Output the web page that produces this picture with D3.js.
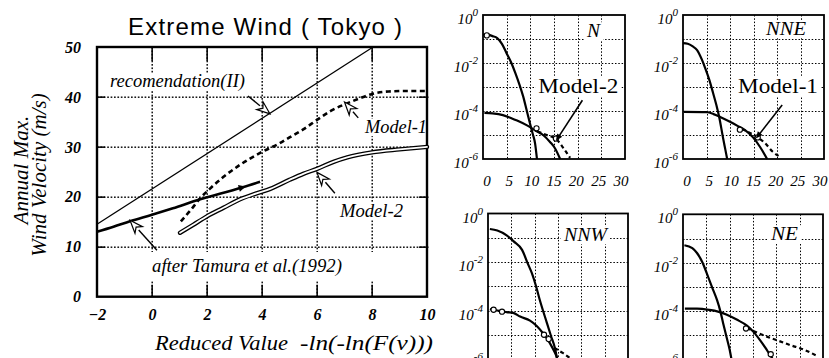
<!DOCTYPE html>
<html><head><meta charset="utf-8">
<script src="https://cdn.jsdelivr.net/npm/d3@7"></script>
<style>body{margin:0;background:#fff}svg{display:block}</style>
</head><body>
<svg id="c" width="829" height="358" xmlns="http://www.w3.org/2000/svg"></svg>
<script>
// ---------- main chart data ----------
const mainXTicks = [-2, 0, 2, 4, 6, 8, 10];
const mainYTicks = [0, 10, 20, 30, 40, 50];
const recommendation = [[-2, 14.5], [8.04, 50]];
const model1 = [[1.05,15.1],[1.4,17.3],[1.75,19.7],[2.1,21.6],[2.6,24.0],[3.2,26.4],[4.0,29.0],[4.6,30.6],[5.0,31.9],[5.5,33.5],[6.0,35.4],[6.5,37.2],[7.0,38.5],[7.5,39.6],[8.0,40.6],[8.6,41.1],[9.3,41.2],[10,41.2]];
const model2 = [[1.02,12.8],[1.5,14.4],[2.0,16.1],[2.6,17.8],[3.2,19.5],[3.8,20.7],[4.3,21.6],[5.0,23.4],[5.5,24.6],[6.0,25.6],[6.6,27.0],[7.1,27.9],[8.0,28.9],[9.0,29.5],[10,30.0]];
const tamura = [[-2,13.0],[-1.4,14.0],[-0.8,15.1],[0,16.4],[0.76,17.7],[1.75,19.5],[2.6,20.8],[3.3,21.9],[3.93,23.0]];
// annotation arrows: [tip, tail]
const recArrow = [[4.29,36.6],[3.49,40.2]];
const model1Arrow = [[7.0,39.0],[7.5,35.8]];
const model2Arrow = [[6.0,24.9],[6.65,20.7]];
const tamuraArrow = [[-0.8,15.3],[0.18,9.3]];

// ---------- small panel data (log10 of probability density) ----------
const panelXTicks = [0, 5, 10, 15, 20, 25, 30];
const panelLabelExp = [0, -2, -4, -6];
const panelGridExp = [-1, -2, -3, -4, -5];
const panelNames = ["N", "NNE", "NNW", "NE"];
const nSteep = [[0,-0.83],[1,-0.82],[2,-0.88],[3,-0.96],[4,-1.2],[5,-1.6],[6,-2.0],[6.8,-2.4],[7.7,-2.9],[8.5,-3.4],[9.2,-3.95],[9.9,-4.5],[10.5,-4.95],[11,-5.35],[11.4,-6.0]];
const nFlat = [[0.3,-4.08],[2,-4.1],[4.2,-4.17],[6,-4.3],[7.2,-4.4],[9.3,-4.6],[11,-4.8],[12.7,-5.0],[14.2,-5.3],[15.2,-5.55],[16.3,-6.0]];
const nTail = [[11.5,-4.85],[13,-4.97],[15.6,-5.2],[17,-5.55],[18.4,-5.95]];
const nMarks = [[0.8,-0.85],[11.3,-4.72],[15.4,-5.15]];
const nneSteep = [[0,-1.17],[1,-1.2],[2,-1.3],[3,-1.46],[4,-1.85],[4.7,-2.2],[5.6,-2.7],[6.4,-3.25],[7.1,-3.75],[7.7,-4.25],[8.5,-5.1],[9.0,-5.6],[9.4,-6.0]];
const nneFlat = [[0.2,-4.04],[5.1,-4.05],[6.5,-4.13],[7.9,-4.25],[10,-4.45],[11.6,-4.62],[13.2,-4.8],[14.9,-5.1],[16.4,-5.5],[17.9,-6.0]];
const nneTail = [[12.5,-4.75],[15.5,-5.05],[17.5,-5.35],[19.1,-5.7],[20.6,-5.9]];
const nneMarks = [[12.1,-4.78],[15.9,-5.1]];
const nnwSteep = [[0.4,-0.64],[2,-0.7],[4,-0.9],[5.5,-1.15],[7.3,-1.5],[8.6,-2.1],[9.4,-2.46],[10.3,-3.0],[11.1,-3.57],[12.6,-4.5],[13.5,-5.05],[14.4,-5.6],[14.8,-6.0]];
const nnwFlat = [[0.4,-3.95],[2,-4.0],[4,-4.07],[5.4,-4.1],[6.9,-4.25],[9,-4.42],[10.5,-4.65],[11.8,-4.94],[12.8,-5.2],[13.7,-5.5],[14.6,-5.85],[14.9,-6.0]];
const nnwTail = [[14.2,-5.55],[16,-5.75],[17.8,-6.0]];
const nnwMarks = [[1.2,-3.97],[3,-4.05],[12.0,-5.0],[13.0,-5.18]];
const neSteep = [[0.3,-1.28],[2,-1.4],[3,-1.6],[4.2,-2.0],[5.1,-2.44],[6.2,-3.0],[7.3,-3.55],[8.0,-4.0],[8.6,-4.5],[9.3,-5.05],[10,-5.6],[10.4,-6.0]];
const neFlat = [[0.4,-3.9],[3,-3.9],[5.6,-3.95],[7.5,-4.02],[9.4,-4.15],[11.5,-4.35],[13.7,-4.6],[15.2,-4.88],[16.5,-5.2],[17.6,-5.5],[18.6,-5.8],[19.3,-6.0]];
const neTail = [[13.7,-4.7],[16,-4.9],[18.6,-5.1],[20.8,-5.25],[22.9,-5.4],[26,-5.6],[28.7,-5.85]];
const neMarks = [[13.5,-4.72],[18.8,-5.78]];
const panelModelLabels = ["Model-2", "Model-1", null, null];
const panelModelArrows = [[[15.4,-5.25],[21,-3.55]], [[15.5,-5.15],[21.1,-3.75]], null, null];

// ---------- drawing ----------
const svg = d3.select("#c");
const SERIF = "'Liberation Serif','Times New Roman',serif";
const SANS = "'Liberation Sans',Arial,sans-serif";
const r2 = v => Math.round(v * 100) / 100;
const half = v => Math.round(v) + 0.5;

function label(g, x, y, str, opts) {
  const size = opts.size || 17, len = opts.len;
  if (opts.bg) {
    const x0 = opts.anchor === "end" ? x - len : x;
    g.append("rect").attr("x", r2(x0 - 3)).attr("y", r2(y - size * 0.78)).attr("width", r2(len + 6))
      .attr("height", r2(size * 0.95)).attr("fill", "#fff");
  }
  return g.append("text").attr("x", x).attr("y", y).text(str)
    .attr("font-family", opts.family || SERIF)
    .attr("font-size", size)
    .attr("font-style", opts.style || "italic")
    .attr("text-anchor", opts.anchor || "start")
    .attr("fill", "#000")
    .attr("textLength", len).attr("lengthAdjust", "spacingAndGlyphs");
}

function openArrow(g, tip, tail, len, wid) {
  const dx = tip[0]-tail[0], dy = tip[1]-tail[1], L = Math.hypot(dx, dy);
  const ux = dx/L, uy = dy/L, nx = -uy, ny = ux;
  const bx = tip[0]-ux*len, by = tip[1]-uy*len;
  g.append("path").attr("d", `M${r2(tail[0])},${r2(tail[1])}L${r2(bx)},${r2(by)}`)
    .attr("fill", "none").attr("stroke", "#000").attr("stroke-width", 1.4);
  g.append("path")
    .attr("d", `M${r2(tip[0])},${r2(tip[1])}L${r2(bx+nx*wid)},${r2(by+ny*wid)}L${r2(bx+ux*len*0.3)},${r2(by+uy*len*0.3)}L${r2(bx-nx*wid)},${r2(by-ny*wid)}Z`)
    .attr("fill", "#fff").attr("stroke", "#000").attr("stroke-width", 1.2);
}

// ===== small panels =====
const panels = [
  {x0: 483, x1: 625, yTop: 15, yBot: 159, steep: nSteep, flat: nFlat, tail: nTail, marks: nMarks, xLabels: true,
   nameX: 600, nameY: 37, nameLen: 13},
  {x0: 683, x1: 824, yTop: 15, yBot: 159, steep: nneSteep, flat: nneFlat, tail: nneTail, marks: nneMarks, xLabels: true,
   nameX: 806, nameY: 35, nameLen: 40},
  {x0: 488, x1: 628, yTop: 213.5, yBot: 359, steep: nnwSteep, flat: nnwFlat, tail: nnwTail, marks: nnwMarks, xLabels: false,
   nameX: 607, nameY: 241, nameLen: 43},
  {x0: 683, x1: 823, yTop: 214.3, yBot: 359.5, steep: neSteep, flat: neFlat, tail: neTail, marks: neMarks, xLabels: false,
   nameX: 798, nameY: 240, nameLen: 27}
];

panels.forEach((p, i) => {
  const g = svg.append("g");
  const px = d3.scaleLinear().domain([0, 30]).range([p.x0, p.x1]);
  const pxLabel = d3.scaleLinear().domain([0, 30]).range([p.x0 + 4, p.x1 - 4]);
  const py = d3.scaleLog().domain([1e-6, 1]).range([p.yBot, p.yTop]);
  const gp = panelXTicks.slice(1, -1).map(d => `M${half(px(d))},${p.yTop}V${p.yBot}`).join("")
    + panelGridExp.map(d => `M${p.x0},${half(py(10 ** d))}H${p.x1}`).join("");
  g.append("path").attr("d", gp).attr("fill", "none")
    .attr("stroke", "#000").attr("stroke-width", 1).attr("stroke-dasharray", "1.5,1.8");
  label(g, p.nameX, p.nameY, panelNames[i], {size: 19, anchor: "end", len: p.nameLen, bg: true});
  if (panelModelLabels[i]) {
    label(g, px(11.7), py(10 ** -3.25), panelModelLabels[i], {size: 22, style: "normal", len: 80, bg: true});
  }
  g.append("rect").attr("x", p.x0).attr("y", p.yTop).attr("width", p.x1 - p.x0).attr("height", p.yBot - p.yTop)
    .attr("fill", "none").attr("stroke", "#000").attr("stroke-width", 1.8);
  const pl = d3.line().x(d => px(d[0])).y(d => py(10 ** d[1])).curve(d3.curveMonotoneX);
  g.append("path").attr("d", pl(p.tail)).attr("fill", "none").attr("stroke", "#000")
    .attr("stroke-width", 2.2).attr("stroke-dasharray", "4,3");
  g.append("path").attr("d", pl(p.flat)).attr("fill", "none").attr("stroke", "#000").attr("stroke-width", 2.2);
  g.append("path").attr("d", pl(p.steep)).attr("fill", "none").attr("stroke", "#000").attr("stroke-width", 2.2);
  g.selectAll(".mk").data(p.marks).join("circle")
    .attr("cx", d => px(d[0])).attr("cy", d => py(10 ** d[1])).attr("r", 2.6)
    .attr("fill", "#fff").attr("stroke", "#000").attr("stroke-width", 1.1);
  if (panelModelArrows[i]) {
    const a = panelModelArrows[i];
    const tip = [px(a[0][0]), py(10 ** a[0][1])], tail = [px(a[1][0]), py(10 ** a[1][1])];
    const dx = tip[0]-tail[0], dy = tip[1]-tail[1], L = Math.hypot(dx, dy), ux = dx/L, uy = dy/L;
    g.append("path").attr("d", `M${r2(tail[0])},${r2(tail[1])}L${r2(tip[0]-ux*4)},${r2(tip[1]-uy*4)}`)
      .attr("fill", "none").attr("stroke", "#000").attr("stroke-width", 1.6);
    g.append("path")
      .attr("d", `M${r2(tip[0])},${r2(tip[1])}L${r2(tip[0]-ux*7-uy*3)},${r2(tip[1]-uy*7+ux*3)}L${r2(tip[0]-ux*7+uy*3)},${r2(tip[1]-uy*7-ux*3)}Z`)
      .attr("fill", "#000");
  }
  panelLabelExp.forEach(e => {
    const t = g.append("text").attr("x", p.x0 - 5).attr("y", r2(py(10 ** e) + 9))
      .attr("text-anchor", "end").attr("font-family", SERIF).attr("font-style", "italic")
      .attr("font-size", 15).attr("fill", "#000");
    t.append("tspan").text("10");
    t.append("tspan").attr("dy", -8).attr("font-size", 11).text(e === 0 ? "0" : "-" + Math.abs(e));
  });
  if (p.xLabels) {
    panelXTicks.forEach(d => {
      g.append("text").attr("x", r2(pxLabel(d))).attr("y", 186).attr("text-anchor", "middle")
        .attr("font-family", SERIF).attr("font-style", "italic").attr("font-size", 15).text(d);
    });
  }
});

// ===== main chart =====
const mx = d3.scaleLinear().domain([-2, 10]).range([97, 427]);
const my = d3.scaleLinear().domain([0, 50]).range([296.7, 47]);
const main = svg.append("g");

// dotted grid drawn as small filled dots (fill rather than stroke)
const dotStep = 3.4;
const vDots = [];
mainXTicks.slice(1, -1).forEach(d => {
  d3.range(my(50), my(0), dotStep).forEach(y => vDots.push([Math.round(mx(d)), y]));
});
const hDots = [];
mainYTicks.slice(1, -1).forEach(d => {
  d3.range(mx(-2), mx(10), dotStep).forEach(x => hDots.push([x, Math.round(my(d))]));
});
main.append("g").selectAll("rect").data(vDots).join("rect")
  .attr("x", d => d[0] - 0.5).attr("y", d => r2(d[1])).attr("width", 1.4).attr("height", 1.7).attr("fill", "#000");
main.append("g").selectAll("rect").data(hDots).join("rect")
  .attr("x", d => r2(d[0])).attr("y", d => d[1] - 0.5).attr("width", 1.7).attr("height", 1.4).attr("fill", "#000");

// solid inward tick marks (filled rects)
const tickRects = [];
mainXTicks.slice(1, -1).forEach(d => {
  tickRects.push([Math.round(mx(d)) - 0.6, my(50), 1.5, 14]);
  tickRects.push([Math.round(mx(d)) - 0.6, my(0) - 12, 1.5, 12]);
});
mainYTicks.slice(1, -1).forEach(d => {
  tickRects.push([mx(-2), Math.round(my(d)) - 0.6, 8, 1.5]);
  tickRects.push([mx(10) - 8, Math.round(my(d)) - 0.6, 8, 1.5]);
});
main.append("g").selectAll("rect").data(tickRects).join("rect")
  .attr("x", d => r2(d[0])).attr("y", d => r2(d[1])).attr("width", d => d[2]).attr("height", d => d[3])
  .attr("fill", "#000");

// tick labels through d3 axes
const axB = main.append("g").attr("transform", `translate(0,${r2(my(0))})`)
  .call(d3.axisBottom(mx).tickValues(mainXTicks).tickSize(0).tickPadding(12).tickFormat(d3.format("d")));
const axL = main.append("g").attr("transform", `translate(${mx(-2)},0)`)
  .call(d3.axisLeft(my).tickValues(mainYTicks).tickSize(0).tickPadding(16).tickFormat(d3.format("d")));
[axB, axL].forEach(a => {
  a.select(".domain").remove();
  a.selectAll("text").attr("font-family", SERIF).attr("font-size", 16)
    .attr("font-style", "italic").attr("font-weight", "bold").attr("fill", "#000");
});
axB.selectAll("text").attr("dy", "0.71em");

// labels with white backgrounds
label(main, 110, 87, "recomendation(II)", {size: 18, len: 135, bg: true});
label(main, 365, 133, "Model-1", {size: 18.5, len: 62, bg: true});
label(main, 340, 217, "Model-2", {size: 18.5, len: 63, bg: true});
main.append("rect").attr("x", 140).attr("y", 252).attr("width", 250).attr("height", 29).attr("fill", "#fff");
label(main, 152, 272, "after Tamura et al.(1992)", {size: 18.5, len: 190});

// frame
main.append("rect").attr("x", mx(-2)).attr("y", r2(my(50))).attr("width", mx(10) - mx(-2)).attr("height", r2(my(0) - my(50)))
  .attr("fill", "none").attr("stroke", "#000").attr("stroke-width", 2.4);

// curves
const ml = d3.line().x(d => mx(d[0])).y(d => my(d[1])).curve(d3.curveMonotoneX);
main.append("path").attr("d", ml(recommendation)).attr("fill", "none").attr("stroke", "#000").attr("stroke-width", 1.3);
main.append("path").attr("d", ml(tamura)).attr("fill", "none").attr("stroke", "#000").attr("stroke-width", 2.6);
main.append("path").attr("d", ml(model1)).attr("fill", "none").attr("stroke", "#000").attr("stroke-width", 2.6).attr("stroke-dasharray", "5,3.5");
main.append("path").attr("d", ml(model2)).attr("fill", "none").attr("stroke", "#000").attr("stroke-width", 4.4).attr("stroke-linecap", "round");
main.append("path").attr("d", ml(model2)).attr("fill", "none").attr("stroke", "#fff").attr("stroke-width", 1.8).attr("stroke-linecap", "round");
{
  const p = [mx(3.3), my(21.9)], q = [mx(2.6), my(20.8)];
  const dx = p[0]-q[0], dy = p[1]-q[1], L = Math.hypot(dx, dy), ux = dx/L, uy = dy/L;
  main.append("path")
    .attr("d", `M${r2(p[0]+ux*3)},${r2(p[1]+uy*3)}L${r2(p[0]-ux*4-uy*3.5)},${r2(p[1]-uy*4+ux*3.5)}L${r2(p[0]-ux*4+uy*3.5)},${r2(p[1]-uy*4-ux*3.5)}Z`)
    .attr("fill", "#000");
}
[recArrow, model1Arrow, model2Arrow, tamuraArrow].forEach(a =>
  openArrow(main, [mx(a[0][0]), my(a[0][1])], [mx(a[1][0]), my(a[1][1])], 13, 5));

// titles
svg.append("text").attr("x", 265).attr("y", 35).attr("text-anchor", "middle")
  .attr("font-family", SANS).attr("font-size", 24).attr("textLength", 274).attr("lengthAdjust", "spacing")
  .text("Extreme Wind ( Tokyo )");
svg.append("text").attr("transform", "translate(28,170) rotate(-90)").attr("text-anchor", "middle")
  .attr("font-family", SERIF).attr("font-size", 21).attr("font-style", "italic").text("Annual Max.");
svg.append("text").attr("transform", "translate(46,175) rotate(-90)").attr("text-anchor", "middle")
  .attr("font-family", SERIF).attr("font-size", 21).attr("font-style", "italic").text("Wind Velocity (m/s)");
svg.append("text").attr("x", 155).attr("y", 350)
  .attr("font-family", SERIF).attr("font-size", 22).attr("font-style", "italic")
  .attr("textLength", 133).attr("lengthAdjust", "spacingAndGlyphs").text("Reduced Value");
svg.append("text").attr("x", 300).attr("y", 350)
  .attr("font-family", SERIF).attr("font-size", 22).attr("font-style", "italic")
  .attr("textLength", 133).attr("lengthAdjust", "spacingAndGlyphs").text("-ln(-ln(F(v)))");
</script>
</body></html>
